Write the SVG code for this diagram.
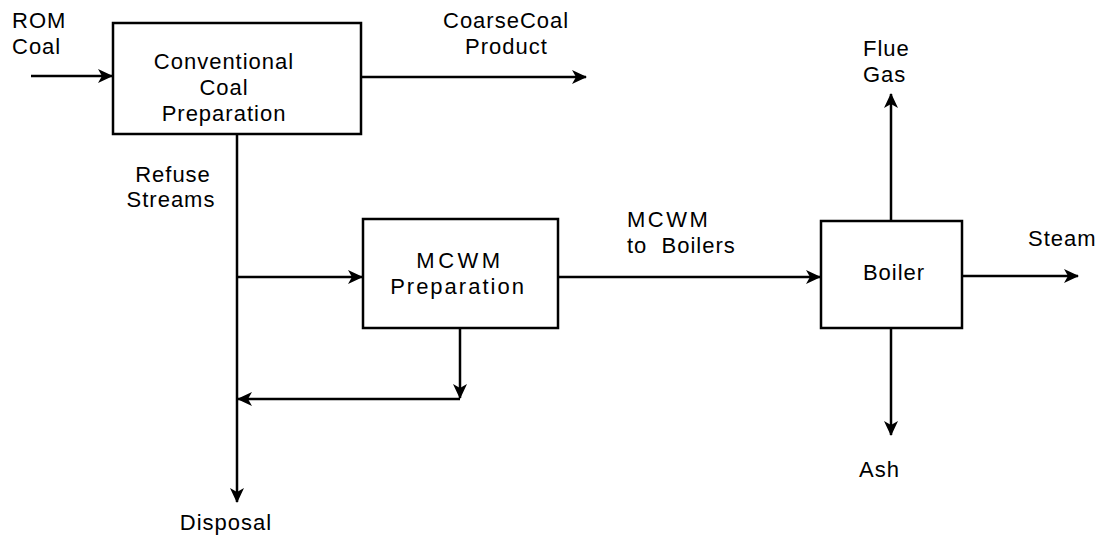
<svg xmlns="http://www.w3.org/2000/svg" width="1104" height="543" viewBox="0 0 1104 543">
<style>
text{font-family:"Liberation Sans",Arial,sans-serif;font-size:22px;letter-spacing:1px;fill:#000}
.box{fill:#fff;stroke:#000;stroke-width:2.5}
.ln{fill:none;stroke:#000;stroke-width:2.5}
.c{text-anchor:middle}
</style>
<defs>
<marker id="ah" markerUnits="userSpaceOnUse" markerWidth="20" markerHeight="20" refX="0" refY="0" viewBox="-16 -10 20 20" orient="auto">
<path d="M1,0 L-14,-7 L-10,0 L-14,7 Z" fill="#000"/>
</marker>
</defs>
<rect width="1104" height="543" fill="#fff"/>
<g id="connectors">
<line class="ln" x1="31" y1="76" x2="112" y2="76" marker-end="url(#ah)"/>
<line class="ln" x1="361" y1="77" x2="586" y2="77" marker-end="url(#ah)"/>
<line class="ln" x1="237" y1="134" x2="237" y2="502" marker-end="url(#ah)"/>
<line class="ln" x1="237" y1="277" x2="362" y2="277" marker-end="url(#ah)"/>
<line class="ln" x1="460" y1="328" x2="460" y2="398" marker-end="url(#ah)"/>
<line class="ln" x1="460" y1="399" x2="238" y2="399" marker-end="url(#ah)"/>
<line class="ln" x1="558" y1="277" x2="820" y2="277" marker-end="url(#ah)"/>
<line class="ln" x1="891" y1="221" x2="891" y2="94" marker-end="url(#ah)"/>
<line class="ln" x1="891" y1="328" x2="891" y2="435" marker-end="url(#ah)"/>
<line class="ln" x1="962" y1="276" x2="1078" y2="276" marker-end="url(#ah)"/>
</g>
<g id="conv">
<rect class="box" x="113" y="23" width="248" height="111"/>
<text class="c" x="224" y="69">Conventional</text>
<text class="c" x="224" y="95">Coal</text>
<text class="c" x="224" y="121">Preparation</text>
</g>
<g id="mcwm">
<rect class="box" x="363" y="219" width="195" height="109"/>
<text class="c" x="460" y="268" style="letter-spacing:3.5px">MCWM</text>
<text class="c" x="458" y="294" style="letter-spacing:2px">Preparation</text>
</g>
<g id="boiler">
<rect class="box" x="821" y="221" width="141" height="107"/>
<text class="c" x="894" y="280">Boiler</text>
</g>
<g id="labels">
<text x="12" y="28">ROM</text>
<text x="12" y="54">Coal</text>
<text x="443" y="28">CoarseCoal</text>
<text x="465" y="54">Product</text>
<text class="c" x="173" y="182">Refuse</text>
<text class="c" x="171" y="207">Streams</text>
<text x="627" y="227" style="letter-spacing:2.5px">MCWM</text>
<text x="627" y="253" xml:space="preserve">to  Boilers</text>
<text x="863" y="56">Flue</text>
<text x="863" y="82">Gas</text>
<text x="1028" y="246">Steam</text>
<text x="859" y="477">Ash</text>
<text class="c" x="226" y="530">Disposal</text>
</g>
</svg>
